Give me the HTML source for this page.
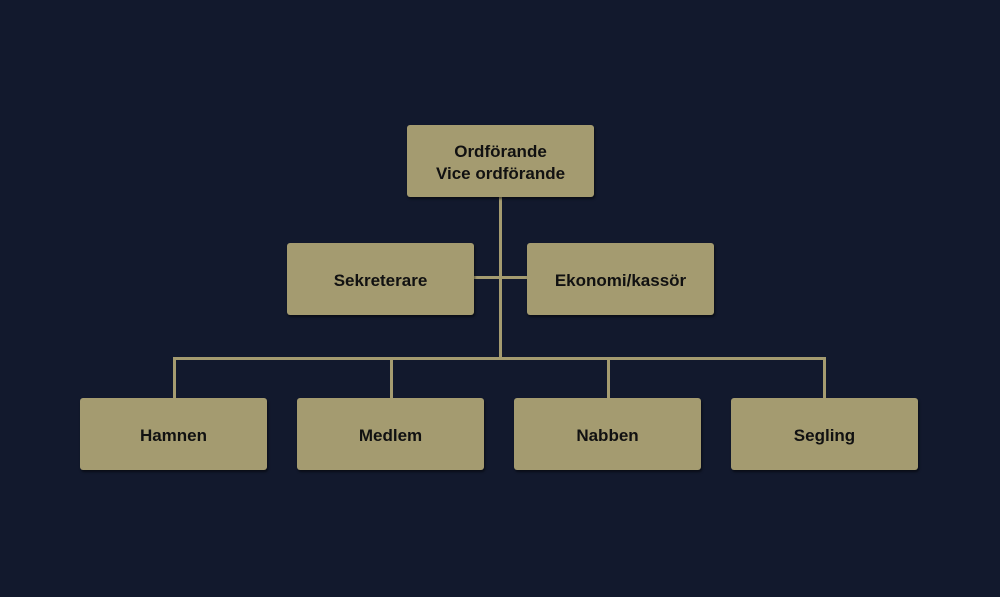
<!DOCTYPE html>
<html><head><style>
body{margin:0;width:1000px;height:597px;background:#12192d;position:relative;overflow:hidden;font-family:"Liberation Sans",sans-serif}
.b{position:absolute;background:#a49b70;border-radius:3px;box-shadow:1px 2px 2px rgba(0,0,0,.5);display:flex;align-items:center;justify-content:center;text-align:center;color:#111;font-size:17px;font-weight:bold;line-height:22px;width:187px;height:69px;padding-top:3px}
.l{position:absolute;background:#a49b70}
</style></head><body>
<div class="l" style="left:499px;top:196px;width:3px;height:163px"></div>
<div class="l" style="left:474px;top:276px;width:54px;height:3px"></div>
<div class="l" style="left:173px;top:357px;width:653px;height:3px"></div>
<div class="l" style="left:173px;top:357px;width:3px;height:43px"></div>
<div class="l" style="left:390px;top:357px;width:3px;height:43px"></div>
<div class="l" style="left:607px;top:357px;width:3px;height:43px"></div>
<div class="l" style="left:823px;top:357px;width:3px;height:43px"></div>
<div class="b" style="left:407px;top:125px">Ordförande<br>Vice ordförande</div>
<div class="b" style="left:287px;top:243px">Sekreterare</div>
<div class="b" style="left:527px;top:243px">Ekonomi/kassör</div>
<div class="b" style="left:80px;top:398px">Hamnen</div>
<div class="b" style="left:297px;top:398px">Medlem</div>
<div class="b" style="left:514px;top:398px">Nabben</div>
<div class="b" style="left:731px;top:398px">Segling</div>
</body></html>
